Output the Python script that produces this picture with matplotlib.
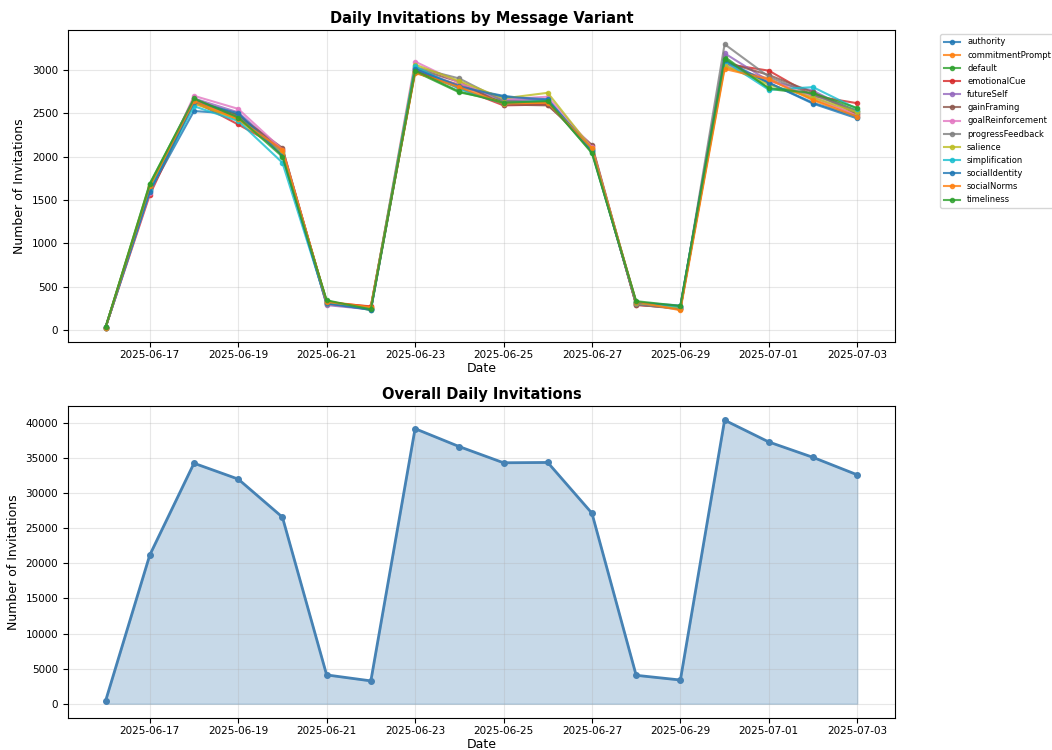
import numpy as np
import pandas as pd
import matplotlib
matplotlib.use("Agg")
import matplotlib.pyplot as plt

# dates covered
dates = pd.date_range("2025-06-16", "2025-07-03", freq="D")

variants = ["authority", "commitmentPrompt", "default", "emotionalCue", "futureSelf",
            "gainFraming", "goalReinforcement", "progressFeedback", "salience",
            "simplification", "socialIdentity", "socialNorms", "timeliness"]

# daily invitations per variant
authority = [30, 1600, 2525, 2490, 2050, 300, 245, 3000, 2800, 2700, 2640, 2080, 310, 265, 3080, 2850, 2610, 2440]
commitmentPrompt = [28, 1640, 2610, 2440, 2070, 330, 270, 2960, 2830, 2620, 2610, 2100, 300, 250, 3030, 2900, 2660, 2480]
default = [32, 1690, 2660, 2480, 2020, 340, 230, 2980, 2740, 2640, 2630, 2050, 320, 275, 3150, 2780, 2720, 2530]
emotionalCue = [31, 1560, 2640, 2370, 2090, 320, 275, 2990, 2790, 2590, 2600, 2120, 290, 255, 3070, 2990, 2700, 2615]
futureSelf = [29, 1620, 2670, 2510, 2060, 290, 240, 3010, 2820, 2650, 2660, 2090, 305, 260, 3190, 2870, 2760, 2500]
gainFraming = [33, 1650, 2650, 2470, 2100, 310, 255, 3020, 2860, 2600, 2590, 2135, 295, 250, 3090, 2940, 2740, 2490]
goalReinforcement = [30, 1580, 2700, 2550, 2080, 300, 250, 3095, 2850, 2660, 2690, 2110, 310, 265, 3060, 2880, 2690, 2470]
progressFeedback = [31, 1630, 2640, 2460, 2030, 305, 245, 3030, 2900, 2640, 2620, 2070, 300, 240, 3295, 2920, 2710, 2520]
salience = [28, 1660, 2620, 2420, 2040, 320, 260, 3060, 2870, 2670, 2735, 2090, 315, 260, 3050, 2830, 2680, 2510]
simplification = [30, 1610, 2580, 2410, 1930, 315, 250, 3040, 2780, 2610, 2650, 2080, 325, 270, 3100, 2770, 2800, 2550]
socialIdentity = [32, 1590, 2630, 2500, 2010, 310, 235, 3010, 2810, 2690, 2660, 2060, 320, 285, 3110, 2850, 2620, 2460]
socialNorms = [29, 1660, 2640, 2430, 2080, 325, 265, 2970, 2800, 2610, 2620, 2095, 330, 230, 3010, 2890, 2650, 2460]
timeliness = [35, 1680, 2670, 2450, 2000, 345, 240, 2990, 2750, 2620, 2640, 2040, 335, 280, 3130, 2790, 2730, 2560]

series = [authority, commitmentPrompt, default, emotionalCue, futureSelf, gainFraming,
          goalReinforcement, progressFeedback, salience, simplification, socialIdentity,
          socialNorms, timeliness]

df = pd.DataFrame(dict(zip(variants, series)), index=dates)
overall = df.sum(axis=1)

fig = plt.figure(figsize=(10.52, 7.5), dpi=100)
ax1 = fig.add_axes([0.0646, 0.544, 0.786, 0.416])
ax2 = fig.add_axes([0.0646, 0.0427, 0.786, 0.416])

# top: one line per variant
for name in variants:
    ax1.plot(df.index, df[name], marker="o", markersize=3, linewidth=1.5, alpha=0.8, label=name)

ax1.set_title("Daily Invitations by Message Variant", fontsize=10.5, fontweight="bold", pad=5)
ax1.set_xlabel("Date", fontsize=9, labelpad=1)
ax1.set_ylabel("Number of Invitations", fontsize=9)
ax1.grid(True, alpha=0.3)
ax1.tick_params(labelsize=7.5)
ax1.tick_params(axis="x", pad=2.5)
ax1.legend(bbox_to_anchor=(1.05, 1), loc="upper left", fontsize=6)

# bottom: overall totals
ax2.plot(overall.index, overall.values, marker="o", markersize=4, linewidth=2, color="steelblue")
ax2.fill_between(overall.index, overall.values, alpha=0.3, color="steelblue")
ax2.set_title("Overall Daily Invitations", fontsize=10.5, fontweight="bold", pad=5)
ax2.set_xlabel("Date", fontsize=9, labelpad=1)
ax2.set_ylabel("Number of Invitations", fontsize=9)
ax2.grid(True, alpha=0.3)
ax2.tick_params(labelsize=7.5)
ax2.tick_params(axis="x", pad=2.5)

fig.savefig("out.png", dpi=100)
